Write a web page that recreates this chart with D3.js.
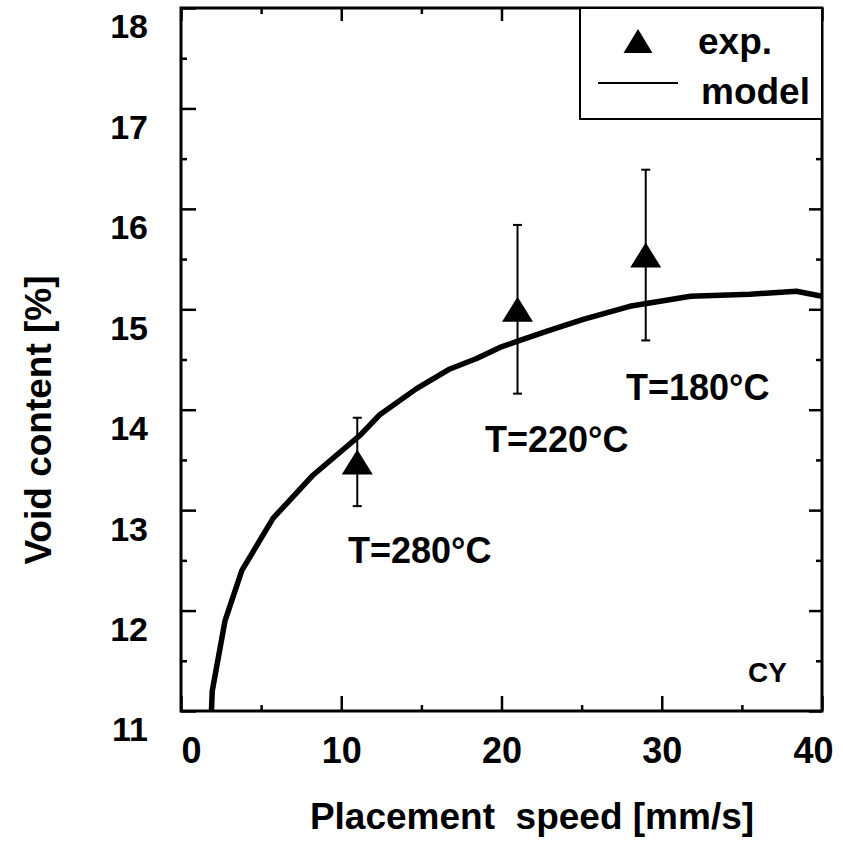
<!DOCTYPE html>
<html>
<head>
<meta charset="utf-8">
<script src="https://cdn.jsdelivr.net/npm/d3@7"></script>
<style>
  body { margin: 0; background: #fff; }
  text { font-family: "Liberation Sans", Arial, Helvetica, sans-serif; font-weight: bold; fill: #000; }
</style>
</head>
<body>
<div id="chart"></div>
<script>
var w = 843;
var h = 844;

var margin = {
  top: 8,
  bottom: 133,
  left: 181,
  right: 21
}

var width = w - margin.left - margin.right;
var height = h - margin.top - margin.bottom;

// model curve
var modelSpeed = [1.9, 1.95, 2.75, 3.8, 5.75, 8.25, 11.2, 12.4, 14.7, 16.7, 18.45, 19.9, 21.15, 22.8, 25.1, 28.0, 31.8, 35.5, 38.4, 40.0];
var modelVoid = [11.0, 11.2, 11.9, 12.4, 12.92, 13.35, 13.75, 13.95, 14.21, 14.4, 14.51, 14.62, 14.69, 14.78, 14.9, 15.03, 15.13, 15.15, 15.18, 15.13];

// experiments
var expSpeed = [11, 21, 29];
var expVoid = [13.48, 15.0, 15.54];
var expErr = [0.44, 0.84, 0.85];

// annotations (data units)
var tempLabels = ['T=280°C', 'T=220°C', 'T=180°C'];
var tempLabelX = [10.42, 18.97, 27.77];
var tempLabelY = [12.47, 13.58, 14.1];

var xTicks = [0, 10, 20, 30, 40];
var xMinor = [5, 15, 25, 35];
var yTicks = [11, 12, 13, 14, 15, 16, 17, 18];
var yMinor = [11.5, 12.5, 13.5, 14.5, 15.5, 16.5, 17.5];

var legendLabels = ['exp.', 'model'];

var x = d3.scaleLinear().domain([0, 40]).range([0, width]);
var y = d3.scaleLinear().domain([11, 18]).range([height, 0]);

var svg = d3.select("#chart").append("svg")
  .attr("width", w)
  .attr("height", h);

var chart = svg.append('g').attr("transform", "translate(" + margin.left + "," + margin.top + ")");

// ticks, all four sides, pointing inward
function ticks(axis, size, values, tr) {
  var g = chart.append('g')
    .attr('transform', tr || null)
    .call(axis.tickValues(values).tickSizeInner(-size).tickSizeOuter(0).tickFormat(''));
  g.select('.domain').remove();
  g.selectAll('line').attr('stroke', '#000').attr('stroke-width', 2.5);
  return g;
}
ticks(d3.axisBottom(x), 15, xTicks, "translate(0," + height + ")");
ticks(d3.axisBottom(x), 6, xMinor, "translate(0," + height + ")");
ticks(d3.axisTop(x), 13, xTicks);
ticks(d3.axisTop(x), 6, xMinor);
ticks(d3.axisLeft(y), 15, yTicks);
ticks(d3.axisLeft(y), 6, yMinor);
ticks(d3.axisRight(y), 13, yTicks, "translate(" + width + ",0)");
ticks(d3.axisRight(y), 6, yMinor, "translate(" + width + ",0)");

// tick labels
var xAx = chart.append('g')
  .attr("transform", "translate(0," + height + ")")
  .call(d3.axisBottom(x).tickValues(xTicks).tickFormat(d3.format('d')).tickSize(0).tickPadding(26));
xAx.select('.domain').remove();
xAx.selectAll('text')
  .style('font-size', '36px')
  .attr('dx', function (d) { return d === 0 ? 10 : (d === 40 ? -9 : 0); });

var yAx = chart.append('g')
  .call(d3.axisLeft(y).tickValues(yTicks).tickFormat(d3.format('d')).tickSize(0).tickPadding(33));
yAx.select('.domain').remove();
yAx.selectAll('text')
  .style('font-size', '34px')
  .attr('y', 19);

// frame
chart.append('rect')
  .attr('width', width)
  .attr('height', height)
  .attr('fill', 'none')
  .attr('stroke', '#000')
  .attr('stroke-width', 3);

// model curve
var line = d3.line()
  .x(function (d) { return x(d[0]); })
  .y(function (d) { return y(d[1]); });

chart.append('path')
  .datum(d3.zip(modelSpeed, modelVoid))
  .attr('d', line)
  .attr('fill', 'none')
  .attr('stroke', '#000')
  .attr('stroke-width', 5.5)
  .attr('stroke-linejoin', 'round');

// error bars
var exp = d3.range(expSpeed.length).map(function (i) {
  return { s: expSpeed[i], v: expVoid[i], e: expErr[i] };
});

var bars = chart.selectAll('.err')
  .data(exp)
  .join('g')
  .attr('class', 'err')
  .attr('stroke', '#000')
  .attr('stroke-width', 2);

bars.append('line')
  .attr('x1', function (d) { return x(d.s); })
  .attr('x2', function (d) { return x(d.s); })
  .attr('y1', function (d) { return y(d.v + d.e); })
  .attr('y2', function (d) { return y(d.v - d.e); });
bars.append('line')
  .attr('x1', function (d) { return x(d.s) - 4.5; })
  .attr('x2', function (d) { return x(d.s) + 4.5; })
  .attr('y1', function (d) { return y(d.v + d.e); })
  .attr('y2', function (d) { return y(d.v + d.e); });
bars.append('line')
  .attr('x1', function (d) { return x(d.s) - 4.5; })
  .attr('x2', function (d) { return x(d.s) + 4.5; })
  .attr('y1', function (d) { return y(d.v - d.e); })
  .attr('y2', function (d) { return y(d.v - d.e); });

function tri(tw, th) {
  return "M0," + (-th / 2) + "L" + (tw / 2) + "," + (th / 2) + "L" + (-tw / 2) + "," + (th / 2) + "Z";
}

chart.selectAll('.pt')
  .data(exp)
  .join('path')
  .attr('class', 'pt')
  .attr('d', tri(31, 25))
  .attr('transform', function (d) { return "translate(" + x(d.s) + "," + y(d.v) + ")"; })
  .attr('fill', '#000');

// temperature labels
chart.selectAll('.tl')
  .data(tempLabels)
  .join('text')
  .attr('class', 'tl')
  .attr('x', function (d, i) { return x(tempLabelX[i]); })
  .attr('y', function (d, i) { return y(tempLabelY[i]); })
  .style('font-size', '36px')
  .text(function (d) { return d; });

chart.append('text')
  .attr('x', x(35.38))
  .attr('y', y(11.29))
  .style('font-size', '28px')
  .text('CY');

// legend
var leg = svg.append('g');
leg.append('rect')
  .attr('x', 580).attr('y', 8)
  .attr('width', 242).attr('height', 111)
  .attr('fill', '#fff')
  .attr('stroke', '#000')
  .attr('stroke-width', 2);
leg.append('path')
  .attr('d', tri(29, 24))
  .attr('transform', 'translate(638,41)')
  .attr('fill', '#000');
leg.append('line')
  .attr('x1', 598).attr('x2', 678)
  .attr('y1', 83).attr('y2', 83)
  .attr('stroke', '#000').attr('stroke-width', 2);
leg.selectAll('.lt')
  .data(legendLabels)
  .join('text')
  .attr('class', 'lt')
  .attr('x', function (d, i) { return i === 0 ? 698 : 701; })
  .attr('y', function (d, i) { return i === 0 ? 54 : 104; })
  .style('font-size', '37px')
  .text(function (d) { return d; });

// axis titles
svg.append('text')
  .attr('transform', 'translate(38,420) rotate(-90)')
  .attr('text-anchor', 'middle')
  .attr('dy', '0.35em')
  .style('font-size', '37px')
  .text('Void content [%]');

svg.append('text')
  .attr('x', 532)
  .attr('y', 829)
  .attr('text-anchor', 'middle')
  .style('font-size', '37px')
  .style('white-space', 'pre')
  .text('Placement  speed [mm/s]');
</script>
</body>
</html>
